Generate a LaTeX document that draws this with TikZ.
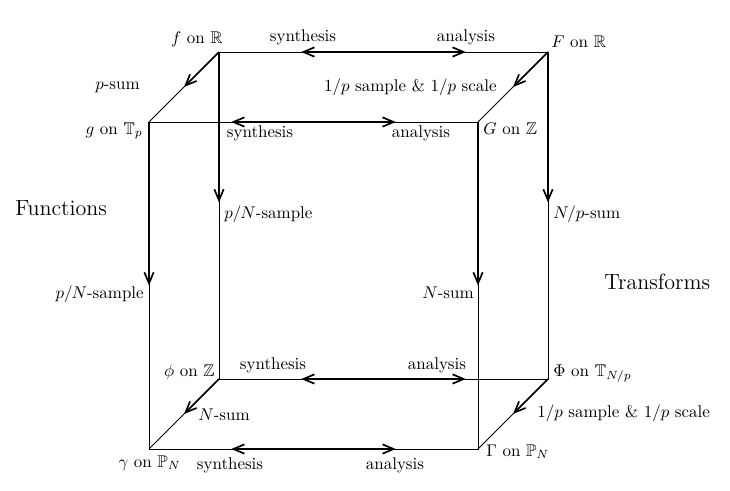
\documentclass[tikz,border=0pt]{standalone}
\usepackage{amssymb}
\usetikzlibrary{arrows.meta,calc}
\begin{document}
\begin{tikzpicture}[x=0.59pt,y=-0.59pt,
  edge/.style={line width=0.5pt},
  tip/.tip={Straight Barb[length=6.5pt,width=5.5pt]},
  arr/.style={line width=1pt,-tip},
  darr/.style={line width=1pt,tip-tip},
  lbl/.style={inner sep=0pt},
  big/.style={inner sep=0pt,font=\fontsize{13}{15}\selectfont}]
\useasboundingbox (0,0) rectangle (730,490);
% corners
\coordinate (f) at (219,52);
\coordinate (F) at (548,52);
\coordinate (g) at (149,122);
\coordinate (G) at (478,122);
\coordinate (phi) at (219,379);
\coordinate (Phi) at (548,379);
\coordinate (gam) at (149,449);
\coordinate (Gam) at (478,449);
% edges
\draw[edge] (f) -- (F) -- (Phi) -- (phi) -- cycle;
\draw[edge] (g) -- (G) -- (Gam) -- (gam) -- cycle;
\draw[edge] (f) -- (g);
\draw[edge] (F) -- (G);
\draw[edge] (phi) -- (gam);
\draw[edge] (Phi) -- (Gam);
% arrows
\draw[arr] (f) -- ($(f)!0.5!(g)$);
\draw[arr] (F) -- ($(F)!0.5!(G)$);
\draw[arr] (phi) -- ($(phi)!0.5!(gam)$);
\draw[arr] (Phi) -- ($(Phi)!0.5!(Gam)$);
\draw[arr] (f) -- ($(f)!0.46!(phi)$);
\draw[arr] (F) -- ($(F)!0.46!(Phi)$);
\draw[arr] (g) -- ($(g)!0.5!(gam)$);
\draw[arr] (G) -- ($(G)!0.5!(Gam)$);
\draw[darr] ($(f)!0.25!(F)$) -- ($(f)!0.75!(F)$);
\draw[darr] ($(g)!0.25!(G)$) -- ($(g)!0.75!(G)$);
\draw[darr] ($(phi)!0.25!(Phi)$) -- ($(phi)!0.75!(Phi)$);
\draw[darr] ($(gam)!0.25!(Gam)$) -- ($(gam)!0.75!(Gam)$);
% corner labels
\node[lbl,anchor=base east] (lf) at (223,43) {$f$ on $\mathbb{R}$};
\node[lbl,anchor=base west] (lF) at (551,47) {$F$ on $\mathbb{R}$};
\node[lbl,anchor=base east] (lg) at (143,134) {$g$ on $\mathbb{T}_p$};
\node[lbl,anchor=base west] (lG) at (483,134) {$G$ on $\mathbb{Z}$};
\node[lbl,anchor=base east] (lphi) at (215,376) {$\phi$ on $\mathbb{Z}$};
\node[lbl,anchor=base west] (lPhi) at (553,376) {$\Phi$ on $\mathbb{T}_{N/p}$};
\node[lbl,anchor=base east] (lgam) at (181,467) {$\gamma$ on $\mathbb{P}_N$};
\node[lbl,anchor=base west] (lGam) at (486,456) {$\Gamma$ on $\mathbb{P}_N$};
% edge labels
\node[lbl,anchor=base] (s1) at (303,41) {synthesis};
\node[lbl,anchor=base] (a1) at (466,41) {analysis};
\node[lbl,anchor=base] (s2) at (260,137) {synthesis};
\node[lbl,anchor=base] (a2) at (421,137) {analysis};
\node[lbl,anchor=base] (s3) at (273,369) {synthesis};
\node[lbl,anchor=base] (a3) at (437,369) {analysis};
\node[lbl,anchor=base] (s4) at (230,469) {synthesis};
\node[lbl,anchor=base] (a4) at (395,469) {analysis};
\node[lbl,anchor=base east] (ps) at (140,89) {$p$-sum};
\node[lbl,anchor=base east] (sc1) at (497,91) {$1/p$ sample \& $1/p$ scale};
\node[lbl,anchor=base west] (pn1) at (224,218) {$p/N$-sample};
\node[lbl,anchor=base west] (np) at (553,218) {$N/p$-sum};
\node[lbl,anchor=base east] (pn2) at (144,298) {$p/N$-sample};
\node[lbl,anchor=base east] (ns1) at (474,298) {$N$-sum};
\node[lbl,anchor=base west] (ns2) at (198,420) {$N$-sum};
\node[lbl,anchor=base west] (sc2) at (537,417) {$1/p$ sample \& $1/p$ scale};
\node[big,anchor=base west] (fun) at (15,215) {Functions};
\node[big,anchor=base west] (tra) at (604,289) {Transforms};
\end{tikzpicture}
\end{document}
